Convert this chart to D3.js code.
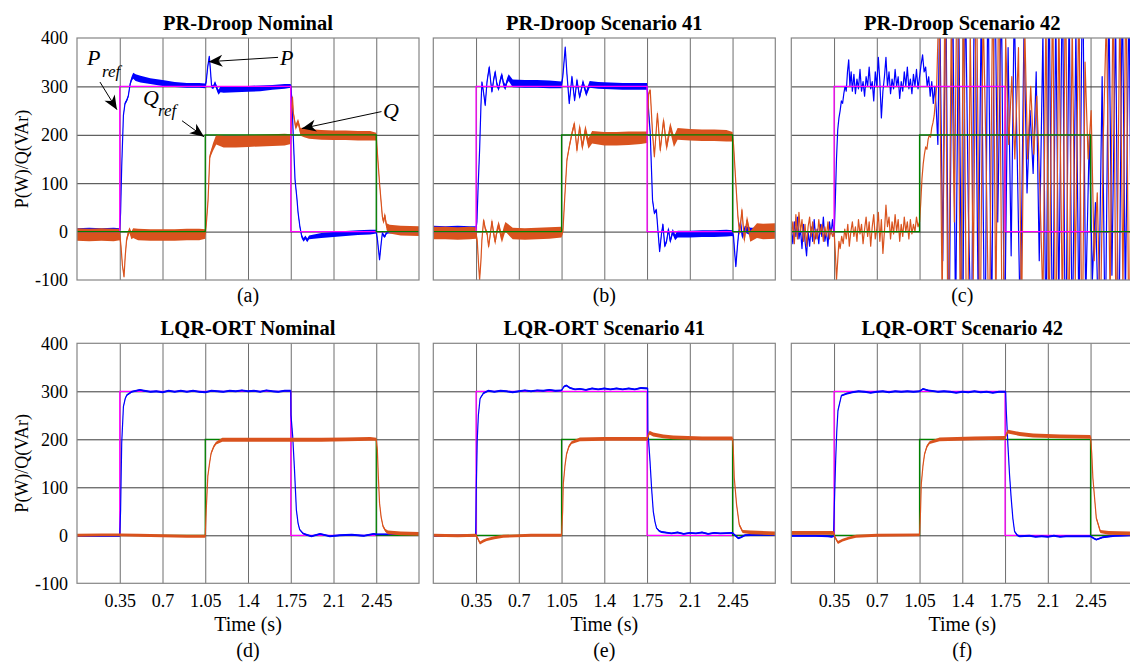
<!DOCTYPE html>
<html><head><meta charset="utf-8">
<script src="https://cdn.jsdelivr.net/npm/d3@7"></script>
<style>
body{margin:0;background:#fff}
svg{display:block}
text{font-family:"Liberation Serif","Times New Roman",serif;fill:#000}
</style>
</head><body>
<svg id="c" width="1130" height="664"></svg>
<script>
// ---------------- DATA ----------------
const timeDomain = [0, 2.8];
const valueDomain = [-100, 400];
const timeTicks = [0.35, 0.7, 1.05, 1.4, 1.75, 2.1, 2.45];
const timeTickLabels = ["0.35", "0.7", "1.05", "1.4", "1.75", "2.1", "2.45"];
const yTicks = [-100, 0, 100, 200, 300, 400];
const yTickLabels = ["-100", "0", "100", "200", "300", "400"];
const titles = ["PR-Droop Nominal", "PR-Droop Scenario 41", "PR-Droop Scenario 42",
                "LQR-ORT Nominal", "LQR-ORT Scenario 41", "LQR-ORT Scenario 42"];
const letters = ["(a)", "(b)", "(c)", "(d)", "(e)", "(f)"];
const yLabel = "P(W)/Q(VAr)";
const xLabel = "Time (s)";

// reference set-points [t, value]
const Pref = [[0,0],[0.35,0],[0.35,300],[1.75,300],[1.75,0],[2.8,0]];
const Qref = [[0,0],[1.05,0],[1.05,200],[2.45,200],[2.45,0],[2.8,0]];

// measured signals [t, value, ripple half-band]
const P_a = [[0,4,3],[0.1,5,3],[0.2,4,3],[0.3,5,3],[0.35,4,3],
[0.357,40,2],[0.366,134,2],[0.38,240,2],[0.393,265,3],[0.407,271,3],[0.42,280,3],[0.435,305,4],[0.448,316,5],[0.46,322,6],[0.48,318,7],[0.52,315,7],[0.6,311,6],[0.7,307,6],[0.8,304,5],[0.9,302,5],[1.0,302,5],[1.05,301,5],
[1.058,310,3],[1.07,340,3],[1.083,362,2],[1.092,335,3],[1.102,300,4],[1.115,298,4],[1.13,307,4],[1.145,296,5],[1.158,288,5],[1.175,294,6],[1.2,293,6],[1.3,294,6],[1.4,295,6],[1.5,296,6],[1.6,298,5],[1.7,300,5],[1.75,301,4],
[1.76,270,3],[1.77,200,3],[1.785,107,3],[1.8,70,3],[1.81,39,3],[1.825,10,3],[1.84,-10,4],[1.855,-17,4],[1.87,-12,4],[1.885,-18,4],[1.9,-12,4],[2.0,-8,5],[2.1,-6,5],[2.2,-4,5],[2.3,-2,5],[2.4,-1,5],[2.45,0,4],
[2.46,-17,2],[2.477,-58,2],[2.49,-25,2],[2.5,-3,3],[2.51,-8,3],[2.52,-10,3],[2.535,-2,3],[2.55,0,4],[2.65,1,4],[2.8,0,4]];
const Q_a = [[0,-6,13],[0.1,-7,13],[0.2,-6,13],[0.3,-7,13],[0.35,-6,12],
[0.36,-30,4],[0.372,-70,3],[0.385,-93,3],[0.395,-50,4],[0.406,-17,5],[0.418,-5,6],[0.43,3,6],[0.445,-8,8],[0.46,-3,10],[0.5,-6,12],[0.6,-7,12],[0.7,-7,12],[0.8,-7,12],[0.9,-6,12],[1.0,-6,12],[1.05,-5,10],
[1.06,20,4],[1.073,65,4],[1.087,155,5],[1.1,165,6],[1.114,175,8],[1.14,190,10],[1.2,186,12],[1.3,186,12],[1.4,187,12],[1.5,188,12],[1.6,189,12],[1.7,190,12],[1.75,191,10],
[1.757,250,5],[1.764,278,4],[1.772,244,5],[1.79,216,6],[1.81,227,6],[1.83,206,8],[1.86,205,10],[1.9,202,10],[2.0,200,10],[2.1,199,10],[2.2,199,10],[2.3,198,10],[2.4,198,10],[2.45,196,8],
[2.46,160,4],[2.477,100,4],[2.5,31,5],[2.51,20,5],[2.52,34,6],[2.535,10,7],[2.56,5,9],[2.65,2,10],[2.8,1,10]];

const P_b = [[0,8,4],[0.1,7,4],[0.2,8,4],[0.3,7,4],[0.35,7,4],
[0.357,20,2],[0.368,100,2],[0.379,168,2],[0.39,260,3],[0.398,309,3],[0.41,290,3],[0.425,261,3],[0.44,310,4],[0.458,340,4],[0.47,310,4],[0.48,289,4],[0.495,315,5],[0.507,330,5],[0.52,305,5],[0.535,295,5],[0.55,315,6],[0.562,323,6],[0.575,305,6],[0.59,298,6],[0.605,312,6],[0.617,318,7],[0.65,306,8],[0.75,305,8],[0.85,305,8],[0.95,304,8],[1.05,303,7],
[1.06,320,3],[1.067,340,3],[1.08,381,2],[1.094,326,3],[1.113,265,3],[1.135,320,4],[1.157,271,4],[1.176,313,5],[1.198,278,5],[1.225,309,6],[1.252,285,6],[1.28,304,7],[1.35,302,7],[1.45,301,7],[1.55,300,7],[1.65,300,7],[1.75,300,7],
[1.76,260,3],[1.776,203,3],[1.795,65,3],[1.81,38,3],[1.826,45,3],[1.84,0,3],[1.853,-41,3],[1.868,-5,4],[1.88,15,4],[1.895,-30,4],[1.91,-20,4],[1.925,5,5],[1.94,-20,5],[1.96,0,6],[1.98,-12,6],[2.0,-5,7],[2.1,-5,7],[2.2,-4,7],[2.3,-4,7],[2.4,-3,7],[2.45,-3,6],
[2.458,-10,3],[2.468,-45,3],[2.477,-72,3],[2.49,-30,3],[2.5,-3,4],[2.515,20,5],[2.53,-10,6],[2.55,5,7],[2.6,0,8],[2.7,0,8],[2.8,0,8]];
const Q_b = [[0,-3,13],[0.1,-3,13],[0.2,-4,13],[0.3,-3,13],[0.35,-3,12],
[0.36,-20,4],[0.37,-65,3],[0.379,-100,3],[0.39,-60,3],[0.398,-17,4],[0.412,24,4],[0.426,5,5],[0.44,-3,5],[0.453,-31,5],[0.467,-5,6],[0.48,21,6],[0.495,-5,7],[0.507,-21,7],[0.52,0,8],[0.535,14,8],[0.55,-3,9],[0.562,-14,9],[0.577,0,10],[0.59,10,10],[0.65,-4,12],[0.75,-5,12],[0.85,-4,12],[0.95,-3,12],[1.05,-1,11],
[1.061,0,4],[1.075,65,4],[1.094,148,4],[1.113,175,5],[1.135,203,6],[1.155,223,6],[1.176,168,7],[1.198,216,8],[1.22,175,9],[1.245,210,10],[1.27,182,11],[1.3,195,13],[1.4,192,14],[1.5,192,14],[1.6,193,14],[1.7,194,13],[1.75,195,12],
[1.757,240,5],[1.763,285,4],[1.776,292,4],[1.795,203,5],[1.81,155,5],[1.835,244,6],[1.858,168,7],[1.885,230,8],[1.91,175,9],[1.94,216,10],[1.97,186,11],[2.0,202,12],[2.1,200,12],[2.2,199,12],[2.3,199,12],[2.4,198,12],[2.45,196,10],
[2.458,180,4],[2.477,100,4],[2.494,31,5],[2.508,-3,6],[2.527,45,7],[2.546,-17,8],[2.568,24,9],[2.595,-10,11],[2.65,2,15],[2.7,0,16],[2.8,1,16]];

const P_c = [[0,10],[0.0125,-25],[0.025,20],[0.0375,-10],[0.05,30],[0.0625,-15],[0.075,5],[0.0875,-35],[0.1,15],[0.1125,-20],[0.125,-50],[0.1375,0],[0.15,-30],[0.1625,10],[0.175,-20],[0.1875,25],[0.2,-15],[0.2125,5],[0.225,-25],[0.2375,15],[0.25,-10],[0.2625,30],[0.275,-20],[0.2875,0],[0.3,-30],[0.3125,20],[0.325,-5],[0.3375,25],[0.35,-10],
[0.36,60],[0.37,150],[0.38,210],[0.39,235],[0.4,250],[0.41,270],[0.42,265],[0.43,285],[0.44,300],[0.45,290],[0.46,330],[0.47,355],[0.48,300],[0.49,330],[0.5,290],
[0.5125,325],[0.525,285],[0.5375,315],[0.55,295],[0.5625,335],[0.575,290],[0.5875,310],[0.6,280],[0.6125,320],[0.625,300],[0.6375,340],[0.65,295],[0.6625,310],[0.675,270],[0.6875,330],[0.7,300],[0.7125,360],[0.725,310],[0.7375,235],[0.75,290],[0.7625,320],[0.775,360],[0.7875,300],[0.8,330],[0.8125,285],[0.825,315],[0.8375,295],[0.85,335],[0.8625,300],[0.875,320],[0.8875,275],[0.9,310],[0.9125,290],[0.925,330],[0.9375,300],[0.95,340],[0.9625,295],[0.975,315],[0.9875,285],[1.0,325],[1.0125,300],[1.025,335],[1.0375,295],[1.05,320],[1.0625,345],[1.075,365],[1.0875,330],[1.1,340],[1.1125,300],[1.125,320],[1.1375,280],[1.15,310],[1.1625,265],[1.175,300],[1.1875,250],
[1.2,180],[1.215,470],[1.24,-60],[1.265,520],[1.29,-280],[1.32,560],[1.345,-200],[1.37,480],[1.4,-330],[1.425,520],[1.45,40],[1.475,-260],[1.5,580],[1.53,-150],[1.555,470],[1.585,-300],[1.61,540],[1.64,-220],[1.665,600],[1.69,20],[1.72,500],[1.745,-250],[1.775,380],[1.8,-50],[1.825,470],[1.85,150],[1.875,-200],[1.905,420],[1.93,80],[1.955,250],[1.98,120],[2.005,330],[2.03,-60],[2.06,410],[2.085,-240],[2.11,520],[2.14,-280],[2.165,460],[2.19,-150],[2.22,550],[2.245,-320],[2.275,480],[2.3,-260],[2.33,420],[2.355,-200],[2.385,580],[2.41,-150],[2.44,200],[2.465,-100],[2.49,60],[2.515,-200],[2.545,320],[2.57,-250],[2.6,480],[2.625,-90],[2.655,450],[2.68,-300],[2.71,520],[2.735,-150],[2.765,500],[2.79,-280],[2.8,-100]];
const Q_c = [[0,-10],[0.0125,20],[0.025,-25],[0.0375,35],[0.05,-15],[0.0625,40],[0.075,0],[0.0875,25],[0.1,-20],[0.1125,15],[0.125,-30],[0.1375,10],[0.15,30],[0.1625,-10],[0.175,20],[0.1875,-25],[0.2,5],[0.2125,-15],[0.225,25],[0.2375,-5],[0.25,15],[0.2625,-20],[0.275,10],[0.2875,-10],[0.3,20],[0.3125,-15],[0.325,5],[0.3375,-10],[0.35,0],
[0.36,-40],[0.37,-100],[0.38,-60],[0.39,-20],[0.4,-35],[0.4125,-10],[0.425,-25],[0.4375,5],[0.45,-15],[0.4625,15],[0.475,-30],[0.4875,0],[0.5,20],[0.5125,-10],[0.525,10],[0.5375,-20],[0.55,25],[0.5625,-5],[0.575,15],[0.5875,-25],[0.6,5],[0.6125,30],[0.625,-10],[0.6375,20],[0.65,-30],[0.6625,10],[0.675,35],[0.6875,-15],[0.7,5],[0.7125,40],[0.725,-20],[0.7375,25],[0.75,-45],[0.7625,0],[0.775,55],[0.7875,10],[0.8,30],[0.8125,-15],[0.825,20],[0.8375,-5],[0.85,35],[0.8625,0],[0.875,25],[0.8875,-20],[0.9,15],[0.9125,-10],[0.925,30],[0.9375,0],[0.95,20],[0.9625,-15],[0.975,25],[0.9875,-5],[1.0,15],[1.0125,0],[1.025,30],[1.0375,10],[1.05,20],
[1.06,60],[1.07,110],[1.08,140],[1.09,160],[1.1,175],[1.11,170],[1.12,190],[1.13,200],[1.14,195],[1.15,215],[1.16,225],[1.17,240],[1.18,270],[1.19,300],
[1.21,490],[1.235,-150],[1.26,560],[1.285,-320],[1.31,450],[1.335,20],[1.36,620],[1.385,-250],[1.41,500],[1.44,-380],[1.465,420],[1.49,-100],[1.515,580],[1.545,-300],[1.57,470],[1.595,150],[1.62,-260],[1.65,540],[1.675,-180],[1.7,600],[1.73,-350],[1.755,400],[1.78,180],[1.805,320],[1.83,150],[1.86,380],[1.885,-200],[1.91,440],[1.935,150],[1.96,300],[1.985,160],[2.01,280],[2.035,90],[2.06,-150],[2.085,450],[2.11,-220],[2.14,520],[2.165,-300],[2.19,460],[2.22,-180],[2.245,560],[2.27,-250],[2.3,430],[2.325,-100],[2.355,500],[2.38,-300],[2.405,350],[2.43,150],[2.455,250],[2.48,-60],[2.505,80],[2.53,-200],[2.555,200],[2.58,450],[2.61,-150],[2.635,520],[2.66,-250],[2.69,480],[2.715,-120],[2.74,550],[2.765,-300],[2.79,420]];

const P_d = [[0,-1,2],[0.2,-1,2],[0.35,-1,2],[0.357,53,1.5],[0.366,192,1.5],[0.38,268,1.5],[0.395,285,1.5],[0.407,292,2],[0.448,299,2],[0.515,303,2],[0.55,301,2],[0.6,299,2],[0.65,300,2],[0.7,298,2],[0.75,301,2],[0.8,299,2],[0.85,301,2],[0.9,299,2],[0.95,301,2],[1.0,299,2],[1.05,298,2],[1.1,301,2],[1.15,300,2],[1.2,299,2],[1.25,301,2],[1.3,300,2],[1.35,302,2],[1.4,300,2],[1.45,301,2],[1.5,299,2],[1.55,302,2],[1.6,300,2],[1.65,299,2],[1.7,301,2],[1.75,301,2],
[1.752,250,1.5],[1.766,206,1.5],[1.78,140,1.5],[1.796,53,1.5],[1.81,25,1.5],[1.823,12,1.5],[1.85,4,2],[1.878,1,2],[1.92,-2,2],[1.99,3,2],[2.07,-2,2],[2.15,0,2],[2.25,1,2],[2.35,-1,2],[2.43,3,2],[2.45,2,2],[2.55,2,2],[2.65,4,2],[2.8,3,2]];
const Q_d = [[0,0,3],[0.2,1,3],[0.35,1,3],[0.5,0,3],[0.7,-1,3],[0.9,-2,3],[1.05,-2,3],[1.058,53,2],[1.071,123,2],[1.085,150,2],[1.098,171,3],[1.12,185,3],[1.139,192,3],[1.19,199,4],[1.4,199,4],[1.6,199,4],[1.8,199,4],[2.0,199,4],[2.2,200,4],[2.4,201,4],[2.45,200,3],[2.459,178,2],[2.467,123,2],[2.477,67,2],[2.49,38,2],[2.505,19,3],[2.525,10,3],[2.546,6,4],[2.65,4,4],[2.8,3,4]];

const P_e = [[0,-1,2],[0.2,-1,2],[0.347,0,2],[0.352,100,1.5],[0.36,200,1.5],[0.369,250,1.5],[0.383,285,1.5],[0.41,296,2],[0.45,301,2],[0.5,299,2],[0.55,301,2],[0.6,300,2],[0.65,298,2],[0.7,300,2],[0.75,302,2],[0.8,300,2],[0.85,302,2],[0.9,301,2],[0.95,303,2],[1.0,301,2],[1.05,302,2],[1.07,310,2],[1.09,312,2],[1.12,307,2],[1.16,304,2],[1.2,305,2],[1.25,303,2],[1.3,306,2],[1.35,304,2],[1.4,306,2],[1.45,304,2],[1.5,306,2],[1.55,304,2],[1.6,306,2],[1.65,304,2],[1.7,307,2],[1.755,306,2],
[1.757,218,1.5],[1.774,155,1.5],[1.788,95,1.5],[1.801,50,1.5],[1.815,28,1.5],[1.828,15,1.5],[1.85,9,2],[1.869,7,2],[1.95,4,2],[2.0,6,2],[2.05,3,2],[2.1,5,2],[2.15,4,2],[2.2,6,2],[2.25,3,2],[2.3,5,2],[2.35,4,2],[2.45,5,2],[2.47,0,2],[2.497,-6,2],[2.52,-4,2],[2.552,0,2],[2.65,1,2],[2.8,1,2]];
const Q_e = [[0,0,3],[0.2,-1,3],[0.347,0,3],[0.355,-2,3],[0.382,-16,3],[0.41,-12,3],[0.437,-9,3],[0.5,-5,3],[0.573,-2,3],[0.8,0,3],[1.05,0,3],[1.059,50,2],[1.064,106,2],[1.078,145,2],[1.091,169,3],[1.11,185,3],[1.132,193,3],[1.2,200,4],[1.4,201,4],[1.6,201,4],[1.75,201,4],[1.757,205,4],[1.77,214,4],[1.8,210,4],[1.883,206,4],[1.965,204,4],[2.2,202,4],[2.45,202,4],[2.456,180,3],[2.464,120,2],[2.483,64,2],[2.505,22,3],[2.532,8,3],[2.6,6,4],[2.8,4,4]];

const P_f = [[0,-1,2],[0.2,-1,2],[0.3,-2,2],[0.33,-3,2],[0.346,-2,2],[0.352,60,1.5],[0.363,155,1.5],[0.372,215,1.5],[0.382,260,1.5],[0.41,291,2],[0.45,295,2],[0.5,298,2],[0.55,300,2],[0.6,299,2],[0.65,297,2],[0.7,299,2],[0.75,300,2],[0.8,298,2],[0.85,300,2],[0.9,299,2],[0.95,300,2],[1.0,299,2],[1.05,300,2],[1.078,305,2],[1.12,302,2],[1.2,299,2],[1.25,300,2],[1.3,299,2],[1.35,297,2],[1.4,299,2],[1.45,298,2],[1.5,300,2],[1.55,298,2],[1.6,299,2],[1.65,297,2],[1.7,299,2],[1.755,299,2],
[1.76,260,1.5],[1.773,190,1.5],[1.787,125,1.5],[1.8,78,1.5],[1.814,35,1.5],[1.828,8,1.5],[1.85,0,2],[1.869,-2,2],[1.95,-1,2],[2.0,-3,2],[2.05,-2,2],[2.1,-3,2],[2.15,-1,2],[2.2,-3,2],[2.25,-2,2],[2.35,-2,2],[2.45,-2,2],[2.475,-6,2],[2.497,-9,2],[2.52,-7,2],[2.55,-4,2],[2.65,-1,2],[2.8,0,2]];
const Q_f = [[0,5,4],[0.2,5,4],[0.346,5,4],[0.36,-5,3],[0.382,-15,3],[0.42,-10,3],[0.47,-6,3],[0.53,-2,3],[0.7,0,3],[1.05,1,3],[1.058,50,2],[1.064,106,2],[1.078,145,2],[1.091,169,3],[1.11,185,3],[1.132,193,3],[1.214,200,4],[1.5,202,4],[1.75,203,4],[1.76,210,4],[1.773,216,4],[1.87,211,4],[1.98,208,4],[2.2,206,4],[2.45,205,4],[2.46,170,3],[2.469,120,2],[2.497,36,3],[2.53,8,3],[2.6,5,4],[2.8,4,4]];

// ---------------- LAYOUT / STYLE ----------------
const colors = {P:"#0000ff", Q:"#d9531e", Pref:"#ff00ff", Qref:"#008000"};
const svg = d3.select("#c");
const W = 342;
const cols = [77, 433.3, 791.3];
const rows = [{top:38, h:242}, {top:343.3, h:240}];
const panels = [
  {P:P_a, Q:Q_a}, {P:P_b, Q:Q_b}, {P:P_c, Q:Q_c},
  {P:P_d, Q:Q_d}, {P:P_e, Q:Q_e}, {P:P_f, Q:Q_f}
];

panels.forEach((p, i) => {
  const row = Math.floor(i / 3), col = i % 3;
  const left = cols[col], r = rows[row];
  const x = d3.scaleLinear().domain(timeDomain).range([left, left + W]);
  const y = d3.scaleLinear().domain(valueDomain).range([r.top + r.h, r.top]);
  const g = svg.append("g");
  const clipId = "clip" + i;
  g.append("clipPath").attr("id", clipId).append("rect")
    .attr("x", left).attr("y", r.top).attr("width", W).attr("height", r.h);

  // grid via axes
  const gx = g.append("g").attr("transform", `translate(0,${r.top + r.h})`)
    .call(d3.axisBottom(x).tickValues(timeTicks).tickSize(-r.h).tickFormat(""));
  gx.select(".domain").remove();
  gx.selectAll("line").attr("stroke", "#6e6e6e").attr("stroke-width", 1);
  const gy = g.append("g").attr("transform", `translate(${left},0)`)
    .call(d3.axisLeft(y).tickValues([0, 100, 200, 300]).tickSize(-W).tickFormat(""));
  gy.select(".domain").remove();
  gy.selectAll("line").attr("stroke", "#3a3a3a").attr("stroke-width", 1);

  const plot = g.append("g").attr("clip-path", `url(#${clipId})`);
  const line = d3.line().x(d => x(d[0])).y(d => y(d[1]));
  const band = d3.area().x(d => x(d[0]))
    .y0(d => y(d[1] - (d[2] || 0))).y1(d => y(d[1] + (d[2] || 0)));

  const drawRefs = () => {
    plot.append("path").datum(Pref).attr("d", line).attr("fill", "none")
      .attr("stroke", colors.Pref).attr("stroke-width", 1.3);
    plot.append("path").datum(Qref).attr("d", line).attr("fill", "none")
      .attr("stroke", colors.Qref).attr("stroke-width", 1.3);
  };
  const drawSig = (data, color, w) => {
    if (data[0].length > 2) {
      plot.append("path").datum(data).attr("d", band).attr("fill", color).attr("stroke", "none");
    }
    plot.append("path").datum(data).attr("d", line).attr("fill", "none")
      .attr("stroke", color).attr("stroke-width", w).attr("stroke-linejoin", "round");
  };

  if (row === 1) drawRefs();
  drawSig(p.P, colors.P, 1.2);
  drawSig(p.Q, colors.Q, 1.2);
  if (row === 0) drawRefs();

  // frame
  g.append("rect").attr("x", left).attr("y", r.top).attr("width", W).attr("height", r.h)
    .attr("fill", "none").attr("stroke", "#858585").attr("stroke-width", 1.2);

  // title
  g.append("text").attr("x", left + W / 2).attr("y", r.top - 8)
    .attr("text-anchor", "middle").style("font-weight", "bold").style("font-size", "20.5px")
    .text(titles[i]);

  // y tick labels
  if (col === 0) {
    const ya = g.append("g").attr("transform", `translate(${left},0)`)
      .call(d3.axisLeft(y).tickValues(yTicks).tickSize(0).tickPadding(9)
        .tickFormat((d, k) => yTickLabels[k]));
    ya.select(".domain").remove();
    ya.selectAll("text").style("font-size", "18px")
      .style("font-family", "'Liberation Serif','Times New Roman',serif").attr("dy", "0.33em");
    g.append("text")
      .attr("transform", `translate(28,${r.top + r.h / 2}) rotate(-90)`)
      .attr("text-anchor", "middle").style("font-size", "18px").text(yLabel);
  }

  if (row === 1) {
    const xa = g.append("g").attr("transform", `translate(0,${r.top + r.h})`)
      .call(d3.axisBottom(x).tickValues(timeTicks).tickSize(0).tickPadding(11)
        .tickFormat((d, k) => timeTickLabels[k]));
    xa.select(".domain").remove();
    xa.selectAll("text").style("font-size", "18px")
      .style("font-family", "'Liberation Serif','Times New Roman',serif");
    g.append("text").attr("x", left + W / 2).attr("y", 631)
      .attr("text-anchor", "middle").style("font-size", "20px").text(xLabel);
    g.append("text").attr("x", left + W / 2).attr("y", 657)
      .attr("text-anchor", "middle").style("font-size", "20px").text(letters[i]);
  } else {
    g.append("text").attr("x", left + W / 2).attr("y", r.top + r.h + 22)
      .attr("text-anchor", "middle").style("font-size", "20px").text(letters[i]);
  }

  // annotations in panel (a)
  if (i === 0) {
    const ann = svg.append("g");
    const label = (t, v, main, sub) => {
      ann.append("text").attr("x", x(t)).attr("y", y(v))
        .style("font-style", "italic").style("font-size", "22px").text(main);
      if (sub) ann.append("text").attr("x", x(t) + 15).attr("y", y(v) + 11.5)
        .style("font-style", "italic").style("font-size", "17px").text(sub);
    };
    const arrow = (t1, v1, t2, v2) => {
      const x1 = x(t1), y1 = y(v1), x2 = x(t2), y2 = y(v2);
      ann.append("line").attr("x1", x1).attr("y1", y1).attr("x2", x2).attr("y2", y2)
        .attr("stroke", "#000").attr("stroke-width", 1);
      const ang = Math.atan2(y2 - y1, x2 - x1) * 180 / Math.PI;
      ann.append("path").attr("d", "M0,0 L-14,-6 L-10,0 L-14,6 Z")
        .attr("transform", `translate(${x2},${y2}) rotate(${ang})`).attr("fill", "#000");
    };
    label(0.082, 344, "P", "ref");
    arrow(0.188, 309, 0.327, 252);
    label(0.54, 262, "Q", "ref");
    arrow(0.86, 229, 1.04, 196);
    label(1.662, 344, "P");
    arrow(1.646, 360, 1.077, 351);
    label(2.505, 235, "Q");
    arrow(2.493, 248, 1.842, 213);
  }
});
</script>
</body></html>
